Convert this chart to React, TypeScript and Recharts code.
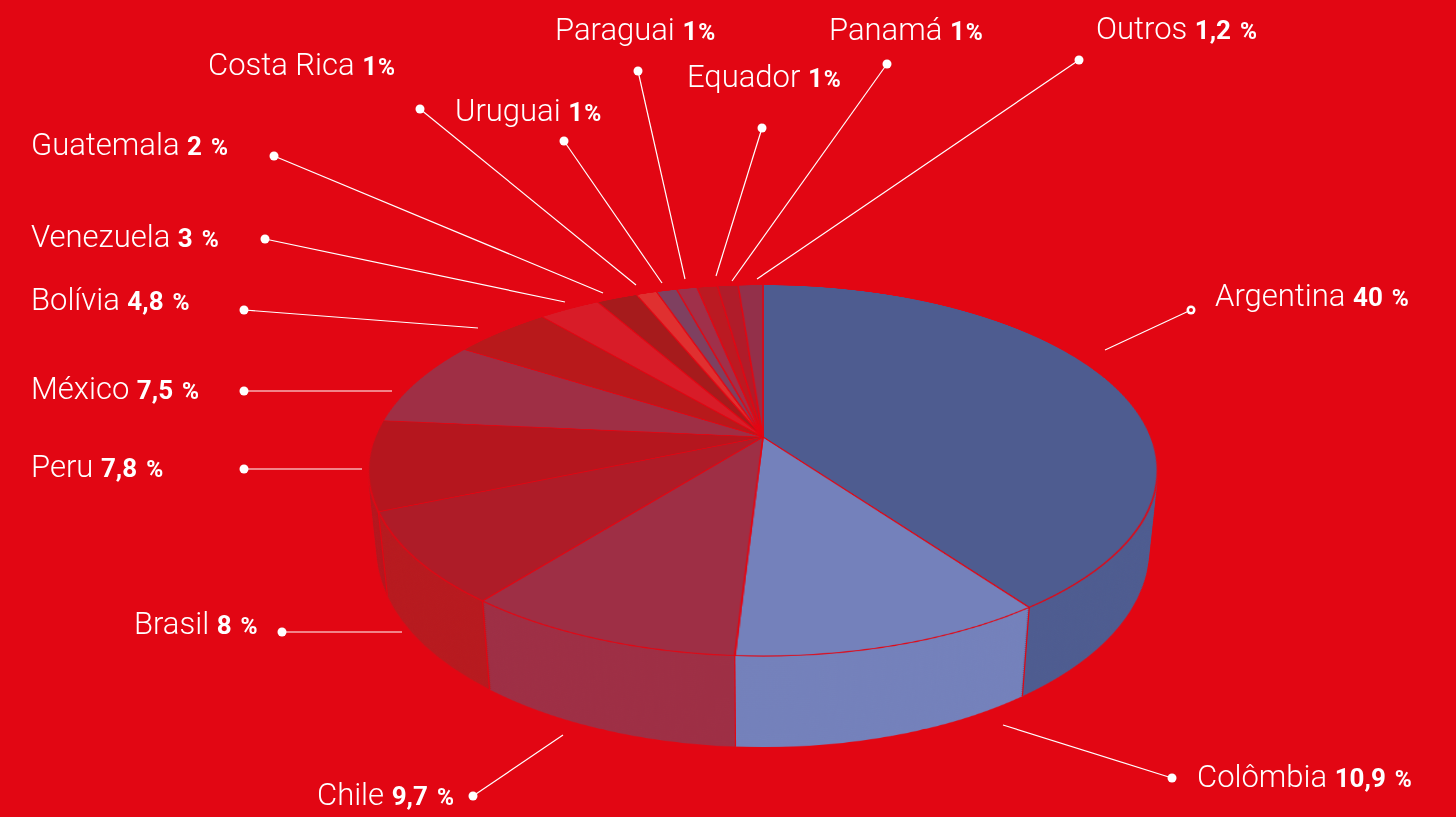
import React from "react";
import { PieChart, Pie, Cell } from "recharts";

// share of each country, clockwise from 12 o'clock
const countries = [
  "Argentina", "Colômbia", "Chile", "Brasil", "Peru", "México", "Bolívia", "Venezuela",
  "Guatemala", "Costa Rica", "Uruguai", "Paraguai", "Equador", "Panamá", "Outros",
];
const shares = [40, 10.9, 9.7, 8, 7.8, 7.5, 4.8, 3, 2, 1, 1, 1, 1, 1, 1.2];
const topColors = [
  "#4e5c90", "#7481bb", "#9e2f45", "#ae1c28", "#b5161e", "#9f2f45", "#b8191b", "#d81c28",
  "#a61b1c", "#e03030", "#7f4060", "#a0304a", "#bb1a22", "#b01c2a", "#93304a",
];
const sideColors = [
  "#4e5c90", "#7481bb", "#9e2f45", "#b71a1f", "#b5161e", "#9f2f45", "#b8191b", "#d81c28",
  "#a61b1c", "#e03030", "#7f4060", "#a0304a", "#bb1a22", "#b01c2a", "#93304a",
];

// label placement (text start, dot, line end)
const labelLayout = [
  { x: 1215, y: 306, dot: [1191, 310], end: [1105, 350], tight: false, ring: true },
  { x: 1197, y: 787, dot: [1172, 778], end: [1003, 725], tight: false },
  { x: 317, y: 805, dot: [473, 796], end: [563, 735], tight: false },
  { x: 134, y: 634, dot: [282, 632], end: [402, 632], tight: false },
  { x: 31, y: 477, dot: [244, 469], end: [362, 469], tight: false },
  { x: 31, y: 399, dot: [244, 391], end: [392, 391], tight: false },
  { x: 31, y: 310, dot: [244, 310], end: [478, 328], tight: false },
  { x: 31, y: 247, dot: [265, 239], end: [565, 302], tight: false },
  { x: 31, y: 155, dot: [274, 156], end: [603, 293], tight: false },
  { x: 208, y: 75, dot: [420, 109], end: [636, 285], tight: true },
  { x: 455, y: 121, dot: [564, 141], end: [662, 283], tight: true },
  { x: 555, y: 40, dot: [638, 71], end: [685, 279], tight: true },
  { x: 687, y: 87, dot: [762, 128], end: [716, 276], tight: true },
  { x: 829, y: 40, dot: [887, 64], end: [732, 281], tight: true },
  { x: 1096, y: 39, dot: [1079, 60], end: [757, 279], tight: false },
];

const BG = "#e20613";
const R = 388;
const TILT = 62.44;
const PERSP = 1905;
const DEPTH = 92;
const CX = 763;
const CY = 437;
const BOX = 800;

const chartData = countries.map((name, i) => ({ name, value: shares[i] }));

// same projection as the css transform, used for the side seams
const project = (deg: number, h: number) => {
  const a = (deg * Math.PI) / 180;
  const t = (TILT * Math.PI) / 180;
  const x = R * Math.sin(a);
  const y = -R * Math.cos(a);
  const y2 = y * Math.cos(t) + h * Math.sin(t);
  const z2 = y * Math.sin(t) - h * Math.cos(t);
  const k = PERSP / (PERSP - z2);
  return [CX + x * k, CY + y2 * k];
};

function Layer({ h, colors, top }: { h: number; colors: string[]; top?: boolean }) {
  return (
    <div
      style={{
        position: "absolute",
        left: CX - BOX / 2,
        top: CY - BOX / 2,
        width: BOX,
        height: BOX,
        transformOrigin: `${BOX / 2}px ${BOX / 2}px`,
        transform: `perspective(${PERSP}px) rotateX(${TILT}deg) translateZ(${-h}px)`,
      }}
    >
      <PieChart width={BOX} height={BOX} margin={{ top: 0, right: 0, bottom: 0, left: 0 }}>
        <Pie
          data={chartData}
          dataKey="value"
          nameKey="name"
          cx="50%"
          cy="50%"
          outerRadius={R}
          startAngle={90}
          endAngle={-270}
          stroke={top ? BG : "none"}
          strokeWidth={top ? 1.6 : 0}
          isAnimationActive={false}
        >
          {chartData.map((entry, index) => (
            <Cell key={`cell-${index}`} fill={colors[index]} />
          ))}
        </Pie>
      </PieChart>
    </div>
  );
}

export default function App() {
  const depths: number[] = [];
  for (let h = DEPTH; h > 0; h -= 2) depths.push(h);

  const total = shares.reduce((a, b) => a + b, 0);
  let acc = 0;
  const seams: number[] = [];
  shares.forEach((v) => {
    acc += v;
    const deg = (acc / total) * 360;
    if (deg > 92 && deg < 268) seams.push(deg);
  });

  return (
    <div
      style={{
        position: "absolute",
        left: 0,
        top: 0,
        width: 1456,
        height: 817,
        background: BG,
        overflow: "hidden",
        fontFamily: "Roboto, 'Liberation Sans', sans-serif",
      }}
    >
      {depths.map((h) => (
        <Layer key={h} h={h} colors={sideColors} />
      ))}
      <Layer h={0} colors={topColors} top />

      <svg width={1456} height={817} style={{ position: "absolute", left: 0, top: 0 }}>
        {seams.map((deg, i) => {
          const [x1, y1] = project(deg, 0);
          const [x2, y2] = project(deg, DEPTH);
          return <line key={`seam-${i}`} x1={x1} y1={y1} x2={x2} y2={y2} stroke={BG} strokeWidth={1.2} />;
        })}
        {labelLayout.map((l, i) => (
          <g key={`lbl-${i}`}>
            <line x1={l.dot[0]} y1={l.dot[1]} x2={l.end[0]} y2={l.end[1]} stroke="#fff" strokeWidth={1.2} />
            <circle cx={l.dot[0]} cy={l.dot[1]} r={4.5} fill="#fff" />
            {l.ring && <circle cx={l.dot[0]} cy={l.dot[1]} r={2} fill={BG} />}
            <text x={l.x} y={l.y} fill="#fff" fontSize={31} fontWeight={300}>
              {countries[i] + " "}
              <tspan fontWeight={700} fontSize={26}>
                {shares[i].toLocaleString("pt-BR")}
              </tspan>
              <tspan fontWeight={700} fontSize={23} dx={l.tight ? 1 : 9}>
                %
              </tspan>
            </text>
          </g>
        ))}
      </svg>
    </div>
  );
}
